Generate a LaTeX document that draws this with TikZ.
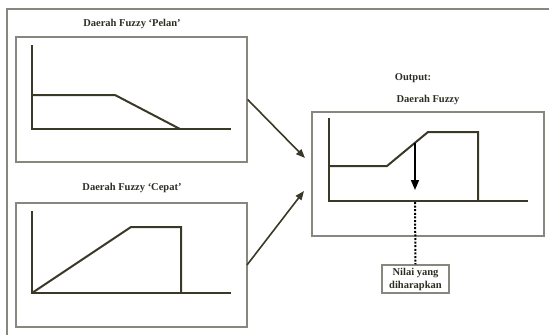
\documentclass[tikz,border=0pt]{standalone}
\usepackage{fontspec}
\setmainfont{Liberation Serif}
\usetikzlibrary{arrows.meta}
\definecolor{curveC}{RGB}{58,56,38}
\definecolor{frameC}{RGB}{135,135,125}
\definecolor{textC}{RGB}{45,45,35}
\tikzset{
  panel/.style={draw=frameC, line width=1.3pt, minimum width=#1, inner sep=0pt},
  curve/.style={draw=curveC, line width=2pt},
  title/.style={font=\bfseries\fontsize{10.5}{13}\selectfont, text=textC, inner sep=0pt},
  link/.style={draw=curveC, line width=1.6pt, -{Triangle[length=9pt,width=7pt]}},
}
\begin{document}
\begin{tikzpicture}[x=1pt,y=-1pt]
\useasboundingbox (0,0) rectangle (549,335);
% outer frame
\draw[frameC, line width=1.3pt] (7,335) -- (7,9) -- (549,9);
% panels
\node[panel=231pt, minimum height=125pt] (p1) at (131.5,99.5) {};
\node[panel=231pt, minimum height=124pt] (p2) at (131.5,265) {};
\node[panel=232pt, minimum height=124pt] (po) at (428,174) {};
\node[panel=67pt, minimum height=28pt, title, align=center] (nil) at (415.5,279) {Nilai yang\\diharapkan};
% titles
\node[title] (t1) at (132,24) {Daerah Fuzzy ‘Pelan’};
\node[title] (t2) at (132,188) {Daerah Fuzzy ‘Cepat’};
\node[title] (t3) at (413,78) {Output:};
\node[title] (t4) at (428,100) {Daerah Fuzzy};
% panel 1 graph
\draw[curve] (32,45) -- (32,129) -- (231,129);
\draw[curve] (32,95) -- (115,95) -- (180,129);
% panel 2 graph
\draw[curve] (32,211) -- (32,293) -- (231,293);
\draw[curve] (32,293) -- (131,227) -- (181,227) -- (181,293);
% output graph
\draw[curve] (329,118) -- (329,201) -- (528,201);
\draw[curve] (329,166) -- (387,166) -- (428,132) -- (478,132) -- (478,201);
% connectors
\coordinate (e1) at (305,158);
\coordinate (e2) at (304,191);
\draw[link] (p1.east) -- (e1);
\draw[link] (247,265) -- (e2);
% defuzzified arrow
\coordinate (c1) at (415,143);
\coordinate (c2) at (415,190);
\coordinate (c3) at (415,202);
\draw[black, line width=1.6pt, -{Triangle[length=10pt,width=8pt]}] (c1) -- (c2);
\draw[black, line width=2pt, dash pattern=on 2pt off 1.6pt] (c3) -- (nil.north);
\end{tikzpicture}
\end{document}
